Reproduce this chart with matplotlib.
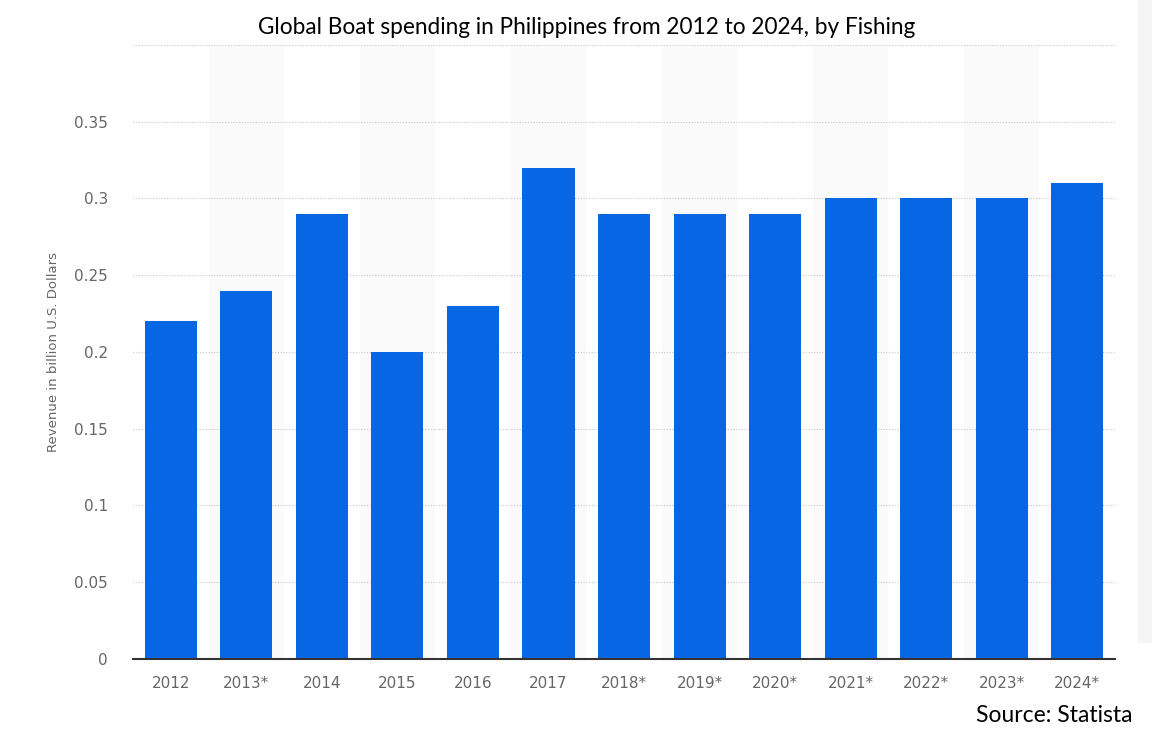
import matplotlib
matplotlib.use("Agg")
import matplotlib.pyplot as plt
from matplotlib.patches import Rectangle

years = ["2012", "2013*", "2014", "2015", "2016", "2017", "2018*",
         "2019*", "2020*", "2021*", "2022*", "2023*", "2024*"]
revenue = [0.22, 0.24, 0.29, 0.20, 0.23, 0.32, 0.29,
           0.29, 0.29, 0.30, 0.30, 0.30, 0.31]
yticks = [0, 0.05, 0.1, 0.15, 0.2, 0.25, 0.3, 0.35, 0.4]
ytick_labels = ["0", "0.05", "0.1", "0.15", "0.2", "0.25", "0.3", "0.35", ""]

title = "Global Boat spending in Philippines from 2012 to 2024, by Fishing"
ylabel = "Revenue in billion U.S. Dollars"
source = "Source: Statista"

BAR = "#0766e4"
TICK = "#666666"

fig = plt.figure(figsize=(11.52, 7.47), dpi=100)
ax = fig.add_axes([0.1155, 0.1178, 0.8524, 0.822])

# faint strip at the right edge of the screenshot
fig.patches.append(Rectangle((0.988, 0.14), 0.012, 0.86, transform=fig.transFigure,
                             color="#f5f5f5", zorder=0))

x = list(range(len(years)))
for i in x:
    if i % 2 == 1:
        ax.axvspan(i - 0.5, i + 0.5, color="#fafafa", zorder=0, lw=0)
ax.bar(x, revenue, width=0.69, color=BAR, zorder=3)

ax.set_xlim(-0.5, len(years) - 0.5)
ax.set_ylim(0, 0.4)
ax.set_yticks(yticks)
ax.set_yticklabels(ytick_labels)
ax.set_xticks(x)
ax.set_xticklabels(years)
ax.grid(axis="y", linestyle=(0, (1, 1.5)), color="#c8c8c8", lw=0.8, zorder=1)
ax.tick_params(axis="both", length=0, colors=TICK, labelsize=11)
ax.tick_params(axis="x", pad=12)
ax.tick_params(axis="y", pad=18)
for side in ("top", "right", "left"):
    ax.spines[side].set_visible(False)
ax.spines["bottom"].set_color("#333333")
ax.spines["bottom"].set_linewidth(1.5)
ax.spines["bottom"].set_zorder(4)

ax.set_ylabel(ylabel, color=TICK, fontsize=9.5, labelpad=10)

fig.text(0.509, 0.963, title, ha="center", va="center", fontsize=16.3,
         family="Lato", color="black")
fig.text(0.983, 0.042, source, ha="right", va="center", fontsize=16.5,
         family="Lato", color="black")

fig.savefig("out.png", dpi=100)
